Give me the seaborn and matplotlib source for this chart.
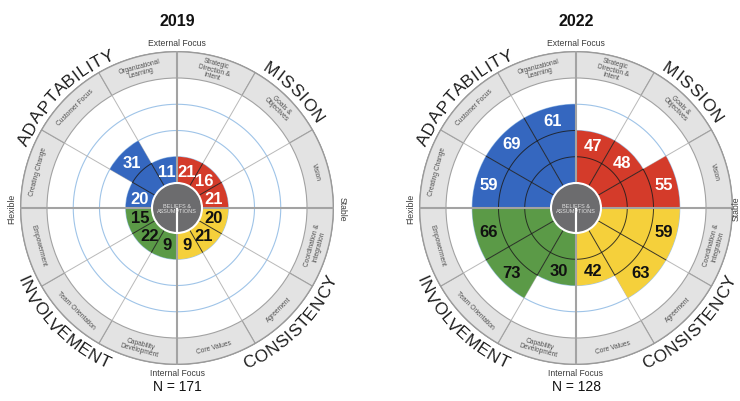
import numpy as np
import matplotlib
matplotlib.use("Agg")
import matplotlib.pyplot as plt
import seaborn as sns
from matplotlib.font_manager import FontProperties
from matplotlib.textpath import text_to_path

sns.set_theme(style="white")
plt.rcParams["font.family"] = ["Liberation Sans", "DejaVu Sans"]

# ---------------- data ----------------
years = ["2019", "2022"]
respondents = [171, 128]
traits = ["MISSION", "CONSISTENCY", "INVOLVEMENT", "ADAPTABILITY"]
trait_colors = ["#d43b2a", "#f5d03b", "#5b9a47", "#3567bf"]
trait_text_colors = ["white", "#111111", "#111111", "white"]
indices = ["Strategic\nDirection &\nIntent", "Goals &\nObjectives", "Vision",
           "Coordination &\nIntegration", "Agreement", "Core Values",
           "Capability\nDevelopment", "Team Orientation", "Empowerment",
           "Creating Change", "Customer Focus", "Organizational\nLearning"]
scores_2019 = [21, 16, 21, 20, 21, 9, 9, 22, 15, 20, 31, 11]
scores_2022 = [47, 48, 55, 59, 63, 42, 30, 73, 66, 59, 69, 61]
axis_labels = ["External Focus", "Stable", "Internal Focus", "Flexible"]
center_label = "BELIEFS &\nASSUMPTIONS"

# ---------------- geometry (radial units = pixels) ----------------
DPI = 100
R0, R_IN, R_OUT = 25.0, 130.0, 157.0
QSTEP = (R_IN - R0) / 4.0
SEG = np.deg2rad(30.0)


def qrad(q):
    return R0 + q * QSTEP


def str_w_px(s, fp):
    if not s:
        return 0.0
    w, h, d = text_to_path.get_text_width_height_descent(s, fp, ismath=False)
    return w * DPI / 72.0


def curved_text(ax, text, theta_c_deg, r_base_top, r_base_bot, fs, top=True):
    fp = FontProperties(family="Liberation Sans", size=fs)
    total = str_w_px(text, fp)
    track = 1.06
    for k, ch in enumerate(text):
        s = (str_w_px(text[:k], fp) + str_w_px(text[:k + 1], fp)) / 2.0
        off = (s - total / 2.0) * track
        r = r_base_top if top else r_base_bot
        dth = np.rad2deg(off / r)
        th = theta_c_deg + dth if top else theta_c_deg - dth
        rot = -th if top else -th + 180
        ax.text(np.deg2rad(th), r, ch, rotation=rot, rotation_mode="anchor",
                ha="center", va="baseline", fontsize=fs, color="#1e1e1e",
                clip_on=False, zorder=10)


fig = plt.figure(figsize=(7.4, 4.02), dpi=DPI)
fig.patch.set_facecolor("white")

centers_px = [(177, 209), (576, 209)]
all_scores = [scores_2019, scores_2022]

for ci, (cx, cy) in enumerate(centers_px):
    scores = all_scores[ci]
    ax = fig.add_axes([(cx - R_OUT) / 740, (402 - cy - R_OUT) / 402,
                       2 * R_OUT / 740, 2 * R_OUT / 402], projection="polar")
    ax.set_theta_zero_location("N")
    ax.set_theta_direction(-1)
    ax.set_ylim(0, R_OUT)
    ax.set_axis_off()

    th_c = np.deg2rad(np.arange(12) * 30 + 15)
    seg_colors = [trait_colors[i // 3] for i in range(12)]
    levels = [int(np.ceil(v / 25.0)) for v in scores]

    # outer band with index names
    ax.bar(th_c, R_OUT - R_IN, width=SEG, bottom=R_IN, color="#e3e3e3",
           edgecolor="#a2a2a2", linewidth=0.8, zorder=1)
    full = np.linspace(0, 2 * np.pi, 400)
    ax.plot(full, np.full_like(full, R_OUT - 0.5), color="#9a9a9a", lw=1.3, zorder=1.2)

    # light blue quartile rings and thin radial lines
    for q in (1, 2, 3):
        ax.plot(full, np.full_like(full, qrad(q)), color="#9fc4e8", lw=0.8, zorder=1.5)
    for b in range(12):
        ax.plot([b * SEG, b * SEG], [R0, R_IN], color="#b9b9b9", lw=0.7, zorder=1.5)

    # coloured fills
    ax.bar(th_c, [qrad(l) - R0 for l in levels], width=SEG, bottom=R0,
           color=seg_colors, edgecolor="none", linewidth=0, zorder=2)

    # dark grid inside the fills
    for i in range(12):
        arc = np.linspace(i * SEG, (i + 1) * SEG, 30)
        for q in range(1, levels[i]):
            ax.plot(arc, np.full_like(arc, qrad(q)), color="#1c1c1c", lw=0.7,
                    alpha=0.85, zorder=3)
        j = (i + 1) % 12
        rmax = qrad(min(levels[i], levels[j]))
        ax.plot([(i + 1) * SEG] * 2, [R0, rmax], color="#1c1c1c", lw=0.7,
                alpha=0.85, zorder=3)

    # main cross lines
    for a in range(4):
        ax.plot([a * np.pi / 2] * 2, [R0, R_OUT], color="#a3a3a3", lw=1.5, zorder=4)

    # centre circle
    ax.bar([0], [R0], width=2 * np.pi, bottom=0, color="#6c6c6e",
           edgecolor="white", linewidth=1.5, zorder=5)
    ax.text(0, 0, center_label, ha="center", va="center", fontsize=4.0,
            color="#e2e2e2", linespacing=1.1, zorder=6)

    # score numbers
    for i in range(12):
        ax.text(th_c[i], qrad(levels[i]) - 13, str(scores[i]), ha="center",
                va="center", fontsize=12, fontweight="bold",
                color=trait_text_colors[i // 3], zorder=7)

    # index names in the band
    for i in range(12):
        deg = i * 30 + 15
        rot = -deg + 180 if 90 < deg < 270 else -deg
        ax.text(th_c[i], (R_IN + R_OUT) / 2, indices[i], rotation=rot,
                rotation_mode="anchor", ha="center", va="center", fontsize=4.8,
                color="#505050", linespacing=1.0, zorder=8)

    # axis labels
    rots = [0, -90 if ci == 0 else 90, 0, 90]
    rads = [165, 165 if ci == 0 else 160, 165, 165]
    for a in range(4):
        ax.text(a * np.pi / 2, rads[a], axis_labels[a], rotation=rots[a],
                rotation_mode="anchor", ha="center", va="center", fontsize=6.2,
                color="#3c3c3c", clip_on=False, zorder=8)

    # trait names along the rim
    trait_angles = [45, 135, 225, 315]
    for t in range(4):
        top = trait_angles[t] in (45, 315)
        curved_text(ax, traits[t], trait_angles[t], 162.5, 174.5, 12.5, top=top)

    fig.text(cx / 740, 1 - 21 / 402, years[ci], ha="center", va="center",
             fontsize=11.5, fontweight="bold", color="#111111")
    fig.text(cx / 740, 1 - 387 / 402, f"N = {respondents[ci]}", ha="center",
             va="center", fontsize=10, color="#111111")

fig.savefig("out.png", dpi=DPI, facecolor="white")
